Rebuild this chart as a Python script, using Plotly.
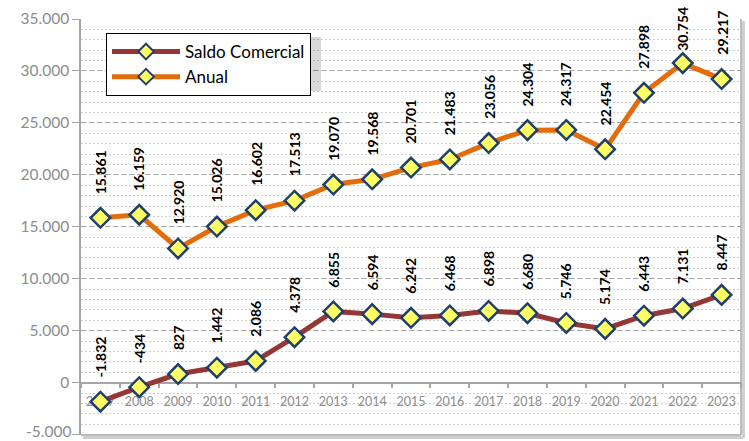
import plotly.graph_objects as go

years = [str(y) for y in range(2007, 2024)]
saldo = [-1832, -434, 827, 1442, 2086, 4378, 6855, 6594, 6242, 6468, 6898, 6680, 5746, 5174, 6443, 7131, 8447]
anual = [15861, 16159, 12920, 15026, 16602, 17513, 19070, 19568, 20701, 21483, 23056, 24304, 24317, 22454, 27898, 30754, 29217]
y_ticks = [-5000, 0, 5000, 10000, 15000, 20000, 25000, 30000, 35000]
y_ticktext = ["-5.000", "0", "5.000", "10.000", "15.000", "20.000", "25.000", "30.000", "35.000"]

FONT = "Lato"
YMIN, YMAX = -5040, 35000
TICK_COLOR = "#8C8C8C"
marker = dict(symbol="diamond", size=15, color="#FFFF66", line=dict(color="#1F3F6E", width=2.5))

L, R, T, B, W, H = 81, 8, 19, 6, 749, 441
PW, PH = W - L - R, H - T - B
LABEL_LEN = 44  # approx. pixel length of a rotated label


def fmt(v):
    return f"{v:,}".replace(",", ".")


def px(xp):
    return (xp - L) / PW


def py(yp):
    return (H - B - yp) / PH


fig = go.Figure()
fig.add_trace(go.Scatter(x=years, y=saldo, mode="lines+markers", name="Saldo Comercial",
                         line=dict(color="#953735", width=5), marker=marker))
fig.add_trace(go.Scatter(x=years, y=anual, mode="lines+markers", name="Anual",
                         line=dict(color="#E46C0A", width=5), marker=marker))

annotations = []
for series in (saldo, anual):
    for i, v in enumerate(series):
        ypix = T + (YMAX - v) / (YMAX - YMIN) * PH
        shift = min(22, ypix - 5 - LABEL_LEN - 4)  # keep label inside the chart
        annotations.append(dict(x=i, y=v, xref="x", yref="y", text=fmt(v), showarrow=False,
                                textangle=-90, yanchor="bottom", xanchor="center", yshift=shift,
                                font=dict(family=FONT, size=14, color="black", weight="bold")))

# lowest y tick label (plotly drops it at the edge of the figure), drawn at its axis value
annotations.append(dict(x=0, xref="paper", y=y_ticks[0], yref="y", text=y_ticktext[0],
                        showarrow=False, xanchor="right", yanchor="middle", xshift=-8, yshift=4,
                        font=dict(family=FONT, size=15.5, color=TICK_COLOR)))
axis_ticktext = [""] + y_ticktext[1:]

shapes = [
    # legend shadow
    dict(type="rect", xref="paper", yref="paper", x0=px(109), x1=px(321), y0=py(91), y1=py(37),
         line=dict(width=0), fillcolor="rgba(0,0,0,0.15)", layer="above"),
    # plot area right/bottom border with shadow
    dict(type="line", xref="paper", yref="paper", x0=px(743.5), x1=px(743.5), y0=py(438), y1=py(21),
         line=dict(color="#D0D0D0", width=3)),
    dict(type="line", xref="paper", yref="paper", x0=px(83), x1=px(743.5), y0=py(437.5), y1=py(437.5),
         line=dict(color="#D0D0D0", width=3)),
    dict(type="line", xref="paper", yref="paper", x0=1, x1=1, y0=0, y1=1,
         line=dict(color="#A6A6A6", width=1.5)),
    dict(type="line", xref="paper", yref="paper", x0=0, x1=1, y0=0, y1=0,
         line=dict(color="#A6A6A6", width=1.5)),
]

fig.update_layout(
    width=W, height=H,
    margin=dict(l=L, r=R, t=T, b=B, autoexpand=False),
    paper_bgcolor="white", plot_bgcolor="white",
    font=dict(family=FONT),
    showlegend=True,
    legend=dict(x=px(106), y=py(33), xanchor="left", yanchor="top",
                bgcolor="white", bordercolor="black", borderwidth=1,
                font=dict(family=FONT, size=17, color="black"),
                itemwidth=68, itemsizing="constant", traceorder="normal"),
    xaxis=dict(type="category", anchor="free", position=-YMIN / (YMAX - YMIN), automargin=False,
               showline=True, linecolor="#A6A6A6", linewidth=1.5,
               ticks="outside", tickson="boundaries", ticklen=5, tickcolor="#A6A6A6", tickwidth=1.5,
               ticklabelstandoff=8,
               tickfont=dict(family=FONT, size=12.5, color=TICK_COLOR),
               showgrid=False, layer="below traces", range=[-0.5, 16.5]),
    yaxis=dict(range=[YMIN, YMAX], tickvals=y_ticks, ticktext=axis_ticktext, automargin=False,
               showline=True, linecolor="#A6A6A6", linewidth=1.5,
               ticks="outside", ticklen=7, tickcolor="#A6A6A6",
               tickfont=dict(family=FONT, size=15.5, color=TICK_COLOR),
               showgrid=True, gridcolor="#A6A6A6", gridwidth=1.3, griddash="5px,3px",
               zeroline=False,
               minor=dict(dtick=1000, tick0=0, showgrid=True, gridcolor="#CFCFCF",
                          gridwidth=1.3, griddash="2px,2px", ticks="")),
    annotations=annotations,
    shapes=shapes,
)

fig.write_html("out.html", config={"displayModeBar": False},
               post_script="document.body.style.margin='0';")
